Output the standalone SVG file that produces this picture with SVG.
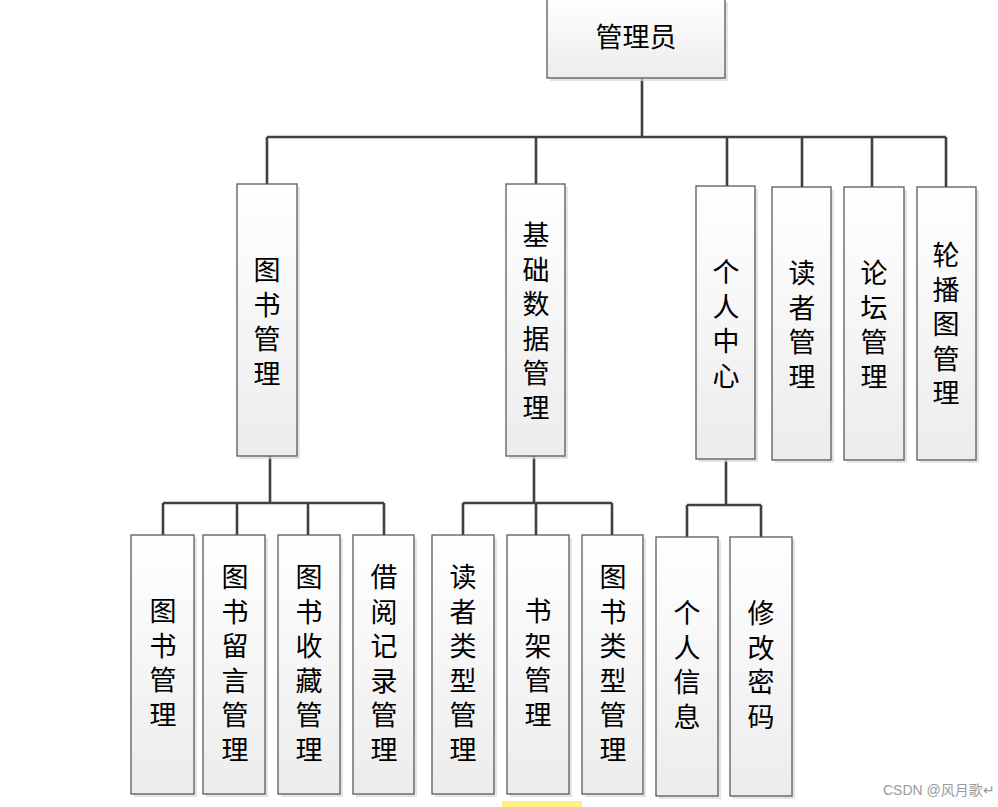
<svg xmlns="http://www.w3.org/2000/svg" width="998" height="807" viewBox="0 0 998 807">
<defs>
<linearGradient id="g" x1="0" y1="0" x2="0" y2="1">
<stop offset="0" stop-color="#ffffff"/>
<stop offset="1" stop-color="#ececec"/>
</linearGradient>
<style>
.sh{fill:#d9d9d9;opacity:0.7}
.bx{fill:url(#g);stroke:#5a5a5a;stroke-width:1.3}
.t{font-family:"Noto Sans CJK SC","Noto Sans CJK JP",sans-serif;font-size:27px;fill:#000;text-anchor:middle}
.c{fill:none;stroke:#404040;stroke-width:2.6}
.wm{font-family:"Liberation Sans","Noto Sans CJK SC",sans-serif;font-size:14px;fill:#9a9a9a}
</style>
</defs>
<rect width="998" height="807" fill="#ffffff"/>
<g id="connectors">
<path class="c" d="M642 78V137M267 137H946M267 137V184M536 137V184M727 137V186M802 137V187M872 137V187M946 137V187"/>
<path class="c" d="M270 456V503M163 503H384M163 503V535M237 503V535M308 503V535M384 503V535"/>
<path class="c" d="M534 456V503M463 503H612M463 503V535M536 503V535M612 503V535"/>
<path class="c" d="M726 459V505M687 505H761M687 505V537M761 505V537"/>
</g>
<g id="n0"><rect class="sh" x="550" y="2" width="178" height="79"/><rect class="bx" x="547" y="-1" width="178" height="79"/><text class="t" x="636" y="47">管理员</text></g>
<g id="n1"><rect class="sh" x="240" y="187" width="60" height="272"/><rect class="bx" x="237" y="184" width="60" height="272"/><text class="t" x="267" y="280"><tspan x="267">图</tspan><tspan x="267" dy="34.5">书</tspan><tspan x="267" dy="34.5">管</tspan><tspan x="267" dy="34.5">理</tspan></text></g>
<g id="n2"><rect class="sh" x="509" y="187" width="59" height="272"/><rect class="bx" x="506" y="184" width="59" height="272"/><text class="t" x="536" y="245"><tspan x="536">基</tspan><tspan x="536" dy="34.5">础</tspan><tspan x="536" dy="34.5">数</tspan><tspan x="536" dy="34.5">据</tspan><tspan x="536" dy="34.5">管</tspan><tspan x="536" dy="34.5">理</tspan></text></g>
<g id="n3"><rect class="sh" x="699" y="189" width="59" height="273"/><rect class="bx" x="696" y="186" width="59" height="273"/><text class="t" x="726" y="282"><tspan x="726">个</tspan><tspan x="726" dy="34.5">人</tspan><tspan x="726" dy="34.5">中</tspan><tspan x="726" dy="34.5">心</tspan></text></g>
<g id="n4"><rect class="sh" x="775" y="190" width="59" height="273"/><rect class="bx" x="772" y="187" width="59" height="273"/><text class="t" x="802" y="283"><tspan x="802">读</tspan><tspan x="802" dy="34.5">者</tspan><tspan x="802" dy="34.5">管</tspan><tspan x="802" dy="34.5">理</tspan></text></g>
<g id="n5"><rect class="sh" x="847" y="190" width="60" height="273"/><rect class="bx" x="844" y="187" width="60" height="273"/><text class="t" x="874" y="283"><tspan x="874">论</tspan><tspan x="874" dy="34.5">坛</tspan><tspan x="874" dy="34.5">管</tspan><tspan x="874" dy="34.5">理</tspan></text></g>
<g id="n6"><rect class="sh" x="920" y="190" width="59" height="273"/><rect class="bx" x="917" y="187" width="59" height="273"/><text class="t" x="946" y="265"><tspan x="946">轮</tspan><tspan x="946" dy="34.5">播</tspan><tspan x="946" dy="34.5">图</tspan><tspan x="946" dy="34.5">管</tspan><tspan x="946" dy="34.5">理</tspan></text></g>
<g id="n7"><rect class="sh" x="134" y="538" width="63" height="259"/><rect class="bx" x="131" y="535" width="63" height="259"/><text class="t" x="163" y="621"><tspan x="163">图</tspan><tspan x="163" dy="34.5">书</tspan><tspan x="163" dy="34.5">管</tspan><tspan x="163" dy="34.5">理</tspan></text></g>
<g id="n8"><rect class="sh" x="206" y="538" width="62" height="259"/><rect class="bx" x="203" y="535" width="62" height="259"/><text class="t" x="235" y="587"><tspan x="235">图</tspan><tspan x="235" dy="34.5">书</tspan><tspan x="235" dy="34.5">留</tspan><tspan x="235" dy="34.5">言</tspan><tspan x="235" dy="34.5">管</tspan><tspan x="235" dy="34.5">理</tspan></text></g>
<g id="n9"><rect class="sh" x="281" y="538" width="62" height="259"/><rect class="bx" x="278" y="535" width="62" height="259"/><text class="t" x="309" y="587"><tspan x="309">图</tspan><tspan x="309" dy="34.5">书</tspan><tspan x="309" dy="34.5">收</tspan><tspan x="309" dy="34.5">藏</tspan><tspan x="309" dy="34.5">管</tspan><tspan x="309" dy="34.5">理</tspan></text></g>
<g id="n10"><rect class="sh" x="356" y="538" width="61" height="259"/><rect class="bx" x="353" y="535" width="61" height="259"/><text class="t" x="384" y="587"><tspan x="384">借</tspan><tspan x="384" dy="34.5">阅</tspan><tspan x="384" dy="34.5">记</tspan><tspan x="384" dy="34.5">录</tspan><tspan x="384" dy="34.5">管</tspan><tspan x="384" dy="34.5">理</tspan></text></g>
<g id="n11"><rect class="sh" x="435" y="538" width="62" height="259"/><rect class="bx" x="432" y="535" width="62" height="259"/><text class="t" x="463" y="587"><tspan x="463">读</tspan><tspan x="463" dy="34.5">者</tspan><tspan x="463" dy="34.5">类</tspan><tspan x="463" dy="34.5">型</tspan><tspan x="463" dy="34.5">管</tspan><tspan x="463" dy="34.5">理</tspan></text></g>
<g id="n12"><rect class="sh" x="510" y="538" width="62" height="259"/><rect class="bx" x="507" y="535" width="62" height="259"/><text class="t" x="538" y="621"><tspan x="538">书</tspan><tspan x="538" dy="34.5">架</tspan><tspan x="538" dy="34.5">管</tspan><tspan x="538" dy="34.5">理</tspan></text></g>
<g id="n13"><rect class="sh" x="585" y="538" width="61" height="259"/><rect class="bx" x="582" y="535" width="61" height="259"/><text class="t" x="613" y="587"><tspan x="613">图</tspan><tspan x="613" dy="34.5">书</tspan><tspan x="613" dy="34.5">类</tspan><tspan x="613" dy="34.5">型</tspan><tspan x="613" dy="34.5">管</tspan><tspan x="613" dy="34.5">理</tspan></text></g>
<g id="n14"><rect class="sh" x="659" y="540" width="62" height="259"/><rect class="bx" x="656" y="537" width="62" height="259"/><text class="t" x="687" y="623"><tspan x="687">个</tspan><tspan x="687" dy="34.5">人</tspan><tspan x="687" dy="34.5">信</tspan><tspan x="687" dy="34.5">息</tspan></text></g>
<g id="n15"><rect class="sh" x="733" y="540" width="62" height="259"/><rect class="bx" x="730" y="537" width="62" height="259"/><text class="t" x="761" y="623"><tspan x="761">修</tspan><tspan x="761" dy="34.5">改</tspan><tspan x="761" dy="34.5">密</tspan><tspan x="761" dy="34.5">码</tspan></text></g>
<rect x="502" y="801" width="80" height="6" fill="#fff080"/>
<text class="wm" x="883" y="795">CSDN @风月歌↵</text>
</svg>
